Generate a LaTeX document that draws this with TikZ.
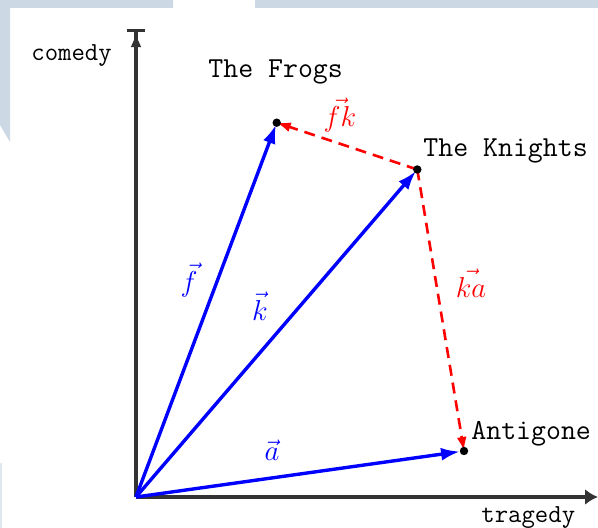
\documentclass[tikz,border=0pt]{standalone}
\usetikzlibrary{arrows.meta}
\definecolor{bgblue}{RGB}{204,216,228}
\begin{document}
\begin{tikzpicture}[x=0.5pt,y=-0.5pt,
  axis/.style={line width=1.6pt, draw=black!80},
  vecline/.style={blue, line width=1.7pt, -{Latex[length=9.5pt,width=6.5pt]}},
  diffline/.style={red, line width=1.3pt, dash pattern=on 5.5pt off 3.5pt, -{Latex[length=7pt,width=5pt]}},
  ptdot/.style={circle, fill=black, inner sep=0pt, minimum size=4.2pt},
  ttlabel/.style={anchor=base west, inner sep=0pt, font=\fontsize{14.5}{17}\selectfont\ttfamily},
  axlabel/.style={anchor=base west, inner sep=0pt, font=\fontsize{13}{15}\selectfont\ttfamily},
  mlab/.style={inner sep=0pt, font=\fontsize{15.5}{18}\selectfont}]
\useasboundingbox (0,0) rectangle (598,528);
\fill[bgblue] (0,0) -- (173,0) -- (173,8) -- (10,8) -- (10,142) -- (0,125) -- cycle;
\fill[bgblue] (255,0) rectangle (598,8);
\fill[bgblue!60] (0,463) rectangle (2,528);

\coordinate (O) at (136,497);
\coordinate (xend) at (598,497);
\coordinate (yend) at (136,29);
\coordinate (F) at (276.7,122.7);
\coordinate (K) at (417.3,169.5);
\coordinate (A) at (464,451);

\draw[axis, -{Latex[length=6.5pt,width=8pt]}] (O) -- (xend);
\draw[axis, -{Latex[length=7.5pt,width=5.5pt,sep=0pt] Bar[width=9pt]}] (O) -- (yend);

\draw[vecline, shorten >=1pt] (O) -- (F);
\draw[vecline, shorten >=1pt] (O) -- (K);
\draw[vecline, shorten >=2pt] (O) -- (A);
\draw[diffline] (K) -- (F);
\draw[diffline] (K) -- (A);

\node[ptdot] (Fdot) at (F) {};
\node[ptdot] (Kdot) at (K) {};
\node[ptdot] (Adot) at (A) {};

\node[ttlabel] (lF) at (208,78) {The Frogs};
\node[ttlabel] (lK) at (423,157) {The Knights};
\node[ttlabel] (lA) at (471,439) {Antigone};
\node[axlabel] (lc) at (31,61) {comedy};
\node[axlabel] (lt) at (481,522) {tragedy};

\node[mlab, text=blue] (mf) at (189,280) {$\vec{f}$};
\node[mlab, text=blue] (mk) at (260,306) {$\vec{k}$};
\node[mlab, text=blue] (ma) at (272,450) {$\vec{a}$};
\node[mlab, text=red] (mfk) at (340,115) {$\vec{fk}$};
\node[mlab, text=red] (mka) at (471,283) {$\vec{ka}$};
\end{tikzpicture}
\end{document}
